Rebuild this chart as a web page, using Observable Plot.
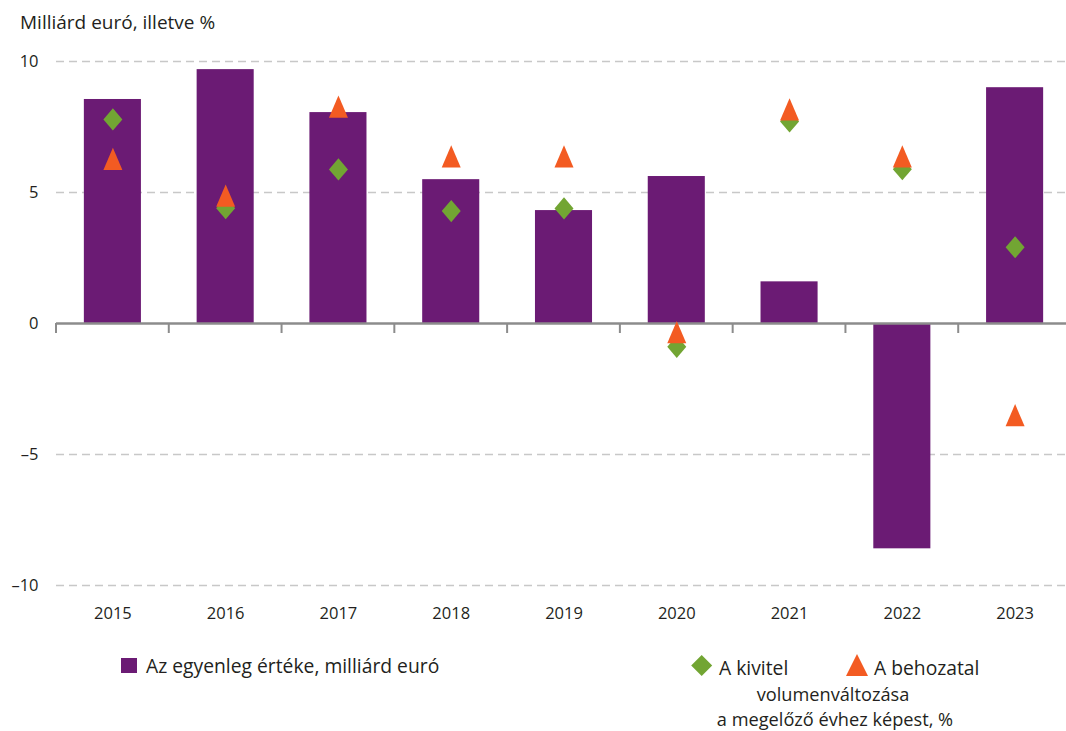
<!DOCTYPE html>
<html><head><meta charset="utf-8">
<script src="https://cdn.jsdelivr.net/npm/d3@7"></script>
<script src="https://cdn.jsdelivr.net/npm/@observablehq/plot@0.6"></script>
<style>
body{margin:0;background:#fff;overflow:hidden;}
#wrap{position:relative;width:1066px;height:731px;overflow:hidden;background:#fff;}
svg text{font-family:"Open Sans",sans-serif;}
#wrap svg{display:block;max-width:none;}
</style></head><body><div id="wrap"></div>
<script>
const years = ["2015","2016","2017","2018","2019","2020","2021","2022","2023"];
const balance = [8.55, 9.69, 8.05, 5.49, 4.31, 5.61, 1.59, -8.60, 9.00];
const exportVol = [7.79, 4.40, 5.88, 4.29, 4.39, -0.89, 7.71, 5.89, 2.91];
const importVol = [6.28, 4.88, 8.28, 6.38, 6.38, -0.33, 8.17, 6.38, -3.50];
const yTicks = [-10, -5, 0, 5, 10];
const gridTicks = [-10, -5, 5, 10];
const titleText = "Milliárd euró, illetve %";
const legendBar = "Az egyenleg értéke, milliárd euró";
const legendExport = "A kivitel";
const legendImport = "A behozatal";
const legendNote = ["volumenváltozása", "a megelőző évhez képest, %"];

const colors = {bar:"#6b1b74", exp:"#72a533", imp:"#f35b22", grid:"#c8c8c8", axis:"#8c8c8c", text:"#231f20"};
const FONT = '"Open Sans", sans-serif';

const rows = years.map((year, i) => ({year, balance: balance[i], exp: exportVol[i], imp: importVol[i]}));

const diamond = {draw(ctx, size){ const r = Math.sqrt(size/Math.PI), h = r*1.17;
  ctx.moveTo(0,-h); ctx.lineTo(r,0); ctx.lineTo(0,h); ctx.lineTo(-r,0); ctx.closePath(); }};
const triangle = {draw(ctx, size){ const r = Math.sqrt(size/Math.PI), h = r*1.17;
  ctx.moveTo(0,-h); ctx.lineTo(r,h); ctx.lineTo(-r,h); ctx.closePath(); }};

const W = 1071, H = 601, ML = 56, MR = 0, MT = 21, MB = 56;

const boundaryTicks = (index, scales) => {
  const x = scales.x, y = scales.y;
  const step = (typeof x.step === "function") ? x.step() : (W - ML - MR) / years.length;
  const bw = (typeof x.bandwidth === "function") ? x.bandwidth() : step * 0.506;
  const pad = (step - bw) / 2;
  const g = d3.create("svg:g");
  const pos = years.map(d => x(d) - pad);
  pos.push(x(years[years.length-1]) + bw + pad);
  pos.forEach(bx => {
    g.append("line").attr("x1", bx).attr("x2", bx).attr("y1", y(0)).attr("y2", y(0) + 10)
      .attr("stroke", colors.axis).attr("stroke-width", 2);
  });
  return g.node();
};

const wrap = document.getElementById("wrap");

// title
const titleSvg = d3.create("svg").attr("width", 1066).attr("height", 40);
titleSvg.append("text").attr("x", 20).attr("y", 29.3).attr("fill", colors.text)
  .attr("font-size", 19).text(titleText);
wrap.appendChild(titleSvg.node());

const chart = Plot.plot({
  width: W, height: H, marginLeft: ML, marginRight: MR, marginTop: MT, marginBottom: MB,
  style: {fontFamily: FONT, fontSize: "16.5px", color: colors.text, background: "#fff", overflow: "visible", maxWidth: "none"},
  x: {type: "band", domain: years, paddingInner: 0.494, paddingOuter: 0.247, round: false, label: null},
  y: {domain: [-10, 10], label: null},
  marks: [
    Plot.ruleY(gridTicks, {stroke: colors.grid, strokeWidth: 1.5, strokeDasharray: "8,5"}),
    Plot.barY(rows, {x: "year", y: "balance", fill: colors.bar}),
    Plot.ruleY([0], {stroke: colors.axis, strokeWidth: 2.5}),
    boundaryTicks,
    Plot.dot(rows, {x: "year", y: "exp", symbol: diamond, r: 9.5, fill: colors.exp}),
    Plot.dot(rows, {x: "year", y: "imp", symbol: triangle, r: 9.5, fill: colors.imp}),
    Plot.axisY({ticks: yTicks, tickSize: 0, tickPadding: 18, fill: colors.text,
      tickFormat: d => d < 0 ? "–" + Math.abs(d) : String(d)}),
    Plot.axisX({tickSize: 0, tickPadding: 22, fill: colors.text})
  ]
});
wrap.appendChild(chart);

// legend
const lg = d3.create("svg").attr("width", 1066).attr("height", 90);
const oy = 641;
const LF = 19.3;
lg.append("rect").attr("x", 121).attr("y", 658 - oy).attr("width", 16).attr("height", 15).attr("fill", colors.bar);
lg.append("text").attr("x", 146).attr("y", 673.3 - oy).attr("font-size", LF).attr("fill", colors.text).text(legendBar);
lg.append("path").attr("d", `M701.7,${655-oy} L712.2,${665.5-oy} L701.7,${676-oy} L691.2,${665.5-oy} Z`).attr("fill", colors.exp);
lg.append("text").attr("x", 719).attr("y", 675 - oy).attr("font-size", LF).attr("fill", colors.text).text(legendExport);
lg.append("path").attr("d", `M857,${654-oy} L868,${676-oy} L846,${676-oy} Z`).attr("fill", colors.imp);
lg.append("text").attr("x", 874).attr("y", 675 - oy).attr("font-size", LF).attr("fill", colors.text).text(legendImport);
const note = lg.append("text").attr("font-size", 18.2).attr("text-anchor", "middle").attr("fill", colors.text);
note.append("tspan").attr("x", 833).attr("y", 700.8 - oy).text(legendNote[0]);
note.append("tspan").attr("x", 835).attr("y", 725.6 - oy).text(legendNote[1]);
wrap.appendChild(lg.node());
</script></body></html>
